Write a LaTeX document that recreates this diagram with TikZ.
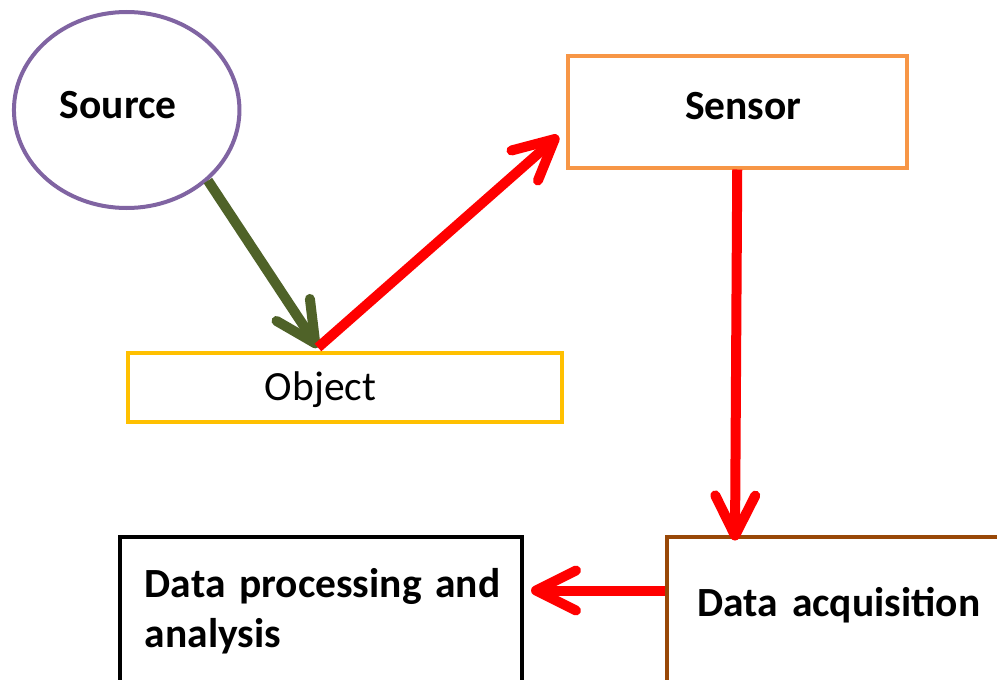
\documentclass[tikz,border=0pt]{standalone}
\usepackage{fontspec}
\setmainfont{Carlito}
\usetikzlibrary{arrows.meta,shapes.geometric}
\definecolor{cpurple}{HTML}{8064A2}
\definecolor{corange}{HTML}{F79646}
\definecolor{cyellow}{HTML}{FFC000}
\definecolor{cbrown}{HTML}{984807}
\definecolor{cgreen}{HTML}{4F6228}
\definecolor{cred}{HTML}{FF0000}
\begin{document}
\begin{tikzpicture}[x=1pt,y=-1pt,
  every node/.style={inner sep=0pt, font=\fontsize{41.5}{50}\selectfont},
  boxtext/.style={font=\fontsize{41.5}{50}\selectfont\bfseries},
  arr/.style={line width=10pt, -{Straight Barb[length=40pt,width=40pt,round]}},
]
\clip (0,0) rectangle (997,680);
\fill[white] (0,0) rectangle (997,680);

\node[ellipse, draw=cpurple, line width=4pt, minimum width=225.5pt, minimum height=196pt,
      text height=30pt, text depth=14pt, boxtext] (source) at (126.7,110) {\hspace*{-17pt}Source};

\node[rectangle, draw=corange, line width=4pt, anchor=north west, minimum width=339.5pt,
      text height=63pt, text depth=48.5pt, boxtext] (sensor) at (565.5,54) {\hspace*{12pt}Sensor};

\node[rectangle, draw=cyellow, line width=4pt, anchor=north west, text width=434pt, align=left,
      text height=47.5pt, text depth=22pt] (obj) at (126,350.5) {\hspace*{137pt}Object};

\node[rectangle, draw=cbrown, line width=4pt, anchor=north west, text width=370pt, align=left,
      text height=79.5pt, text depth=100pt, boxtext] (acq) at (664.5,534.5) {\hspace*{31pt}Data acquisition};

\node[rectangle, draw=black, line width=4.5pt, anchor=north west, text width=402pt, align=left,
      text height=60.5pt, text depth=120pt, boxtext] (proc) at (117.5,534.5)
      {\hspace*{25pt}Data processing and\\\hspace*{25pt}analysis};

\coordinate (objtop) at ([xshift=192pt,yshift=3pt]obj.north west);
\coordinate (senstip) at ([xshift=-7pt,yshift=-24pt]sensor.west);
\coordinate (acqtip) at ([xshift=70.5pt,yshift=-6pt]acq.north west);
\coordinate (acqout) at ([yshift=-56pt]acq.north west);
\coordinate (proctip) at ([xshift=7pt,yshift=-56pt]proc.north east);

\draw[arr, cgreen] (source.-41) -- (objtop);
\draw[arr, cred] (objtop) -- (senstip);
\draw[arr, cred] (sensor.south) -- (acqtip);
\draw[arr, cred] (acqout) -- (proctip);
\end{tikzpicture}
\end{document}
